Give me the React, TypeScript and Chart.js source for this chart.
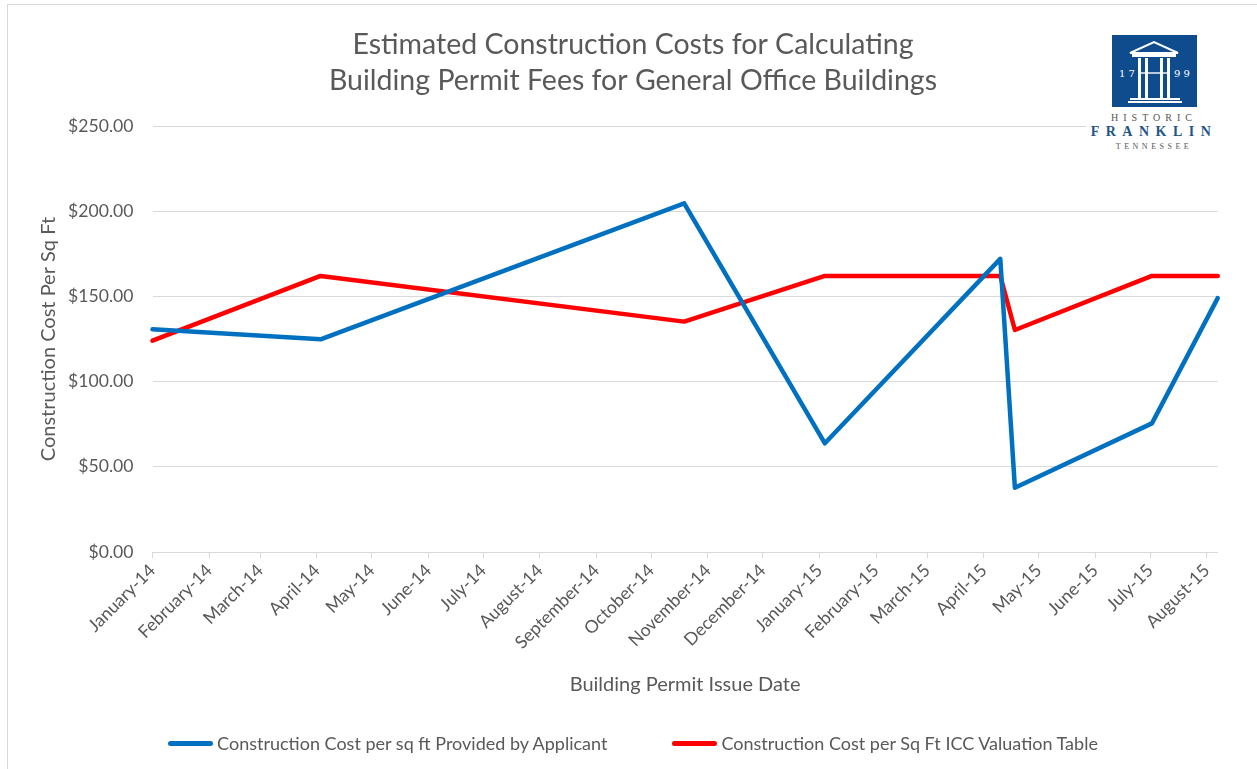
import React, { useEffect, useRef } from "react";
import { Chart, registerables } from "chart.js";

Chart.register(...registerables);

// ---- data ----
const pointDates = [
  "2014-01-01",
  "2014-04-03",
  "2014-10-19",
  "2015-01-04",
  "2015-04-10",
  "2015-04-18",
  "2015-07-02",
  "2015-08-07",
];
const applicantCost = [130.7, 124.8, 204.6, 63.8, 172.0, 37.7, 75.5, 149.0];
const iccCost = [124.0, 162.0, 135.2, 162.0, 162.0, 130.3, 162.0, 162.0];

const monthTickDates = [
  "2014-01-01", "2014-02-01", "2014-03-01", "2014-04-01", "2014-05-01",
  "2014-06-01", "2014-07-01", "2014-08-01", "2014-09-01", "2014-10-01",
  "2014-11-01", "2014-12-01", "2015-01-01", "2015-02-01", "2015-03-01",
  "2015-04-01", "2015-05-01", "2015-06-01", "2015-07-01", "2015-08-01",
];
const monthTickLabels = [
  "January-14", "February-14", "March-14", "April-14", "May-14",
  "June-14", "July-14", "August-14", "September-14", "October-14",
  "November-14", "December-14", "January-15", "February-15", "March-15",
  "April-15", "May-15", "June-15", "July-15", "August-15",
];
const yTickValues = [0, 50, 100, 150, 200, 250];

const seriesNames = [
  "Construction Cost per sq ft Provided by Applicant",
  "Construction Cost per Sq Ft ICC Valuation Table",
];
const seriesColors = ["#0070C0", "#FF0000"];
const titleLines = [
  "Estimated Construction Costs for Calculating",
  "Building Permit Fees for General Office Buildings",
];
const xAxisTitle = "Building Permit Issue Date";
const yAxisTitle = "Construction Cost Per Sq Ft";
const axisStart = "2014-01-01";
const axisEnd = "2015-08-07";

const FONT = "Lato, 'Open Sans', sans-serif";
const TEXT = "#595959";
const GRID = "#d9d9d9";

const dayOf = (s: string) => (Date.parse(s) - Date.parse(axisStart)) / 86400000;

function Logo() {
  return (
    <div
      style={{
        position: "absolute",
        left: 1086,
        top: 28,
        width: 136,
        height: 130,
        background: "#fff",
      }}
    >
      <svg
        width={85}
        height={72}
        viewBox="0 0 85 72"
        style={{ position: "absolute", left: 26, top: 7 }}
      >
        <rect x={0} y={0} width={85} height={72} fill="#0f4c8d" />
        <polygon points="18,18 42,7 66,18" fill="none" stroke="#fff" strokeWidth={2} />
        <rect x={20} y={19} width={44} height={3} fill="#fff" />
        <rect x={26} y={23} width={3} height={40} fill="#fff" />
        <rect x={33} y={23} width={3} height={40} fill="#fff" />
        <rect x={48} y={23} width={3} height={40} fill="#fff" />
        <rect x={55} y={23} width={3} height={40} fill="#fff" />
        <rect x={29} y={37} width={26} height={2} fill="#fff" opacity={0.7} />
        <rect x={18} y={63} width={50} height={2} fill="#fff" />
        <rect x={16} y={66} width={54} height={2} fill="#fff" />
        <text x={15} y={42} fill="#fff" fontSize={10} fontFamily="'DejaVu Serif', serif" textAnchor="middle">1 7</text>
        <text x={70} y={42} fill="#fff" fontSize={10} fontFamily="'DejaVu Serif', serif" textAnchor="middle">9 9</text>
      </svg>
      <div
        style={{
          position: "absolute",
          left: 0,
          width: 136,
          top: 84,
          textAlign: "center",
          fontFamily: "'Liberation Serif', serif",
          fontSize: 10,
          letterSpacing: 5,
          color: "#555",
          lineHeight: "12px",
        }}
      >
        HISTORIC
      </div>
      <div
        style={{
          position: "absolute",
          left: 0,
          width: 136,
          top: 96,
          textAlign: "center",
          fontFamily: "'Liberation Serif', serif",
          fontSize: 14,
          fontWeight: "bold",
          letterSpacing: 6.5,
          color: "#1f5586",
          lineHeight: "16px",
        }}
      >
        FRANKLIN
      </div>
      <div
        style={{
          position: "absolute",
          left: 0,
          width: 136,
          top: 114,
          textAlign: "center",
          fontFamily: "'Liberation Serif', serif",
          fontSize: 8,
          letterSpacing: 3.5,
          color: "#555",
          lineHeight: "10px",
        }}
      >
        TENNESSEE
      </div>
    </div>
  );
}

export default function App() {
  const canvasRef = useRef<HTMLCanvasElement | null>(null);

  useEffect(() => {
    const canvas = canvasRef.current;
    if (!canvas) return;
    const tickDays = monthTickDates.map(dayOf);

    const chart = new Chart(canvas, {
      type: "line",
      data: {
        datasets: [
          {
            label: seriesNames[0],
            data: pointDates.map((d, i) => ({ x: dayOf(d), y: applicantCost[i] })),
            borderColor: seriesColors[0],
            backgroundColor: seriesColors[0],
            borderWidth: 4.5,
            pointRadius: 0,
            borderCapStyle: "round",
            borderJoinStyle: "round",
            tension: 0,
            clip: false,
          },
          {
            label: seriesNames[1],
            data: pointDates.map((d, i) => ({ x: dayOf(d), y: iccCost[i] })),
            borderColor: seriesColors[1],
            backgroundColor: seriesColors[1],
            borderWidth: 4.5,
            pointRadius: 0,
            borderCapStyle: "round",
            borderJoinStyle: "round",
            tension: 0,
            clip: false,
          },
        ],
      },
      options: {
        animation: false,
        responsive: false,
        maintainAspectRatio: false,
        layout: { padding: { left: 41.3, right: 41.3, top: 0, bottom: 0 } },
        plugins: {
          legend: { display: false },
          tooltip: { enabled: false },
          title: {
            display: true,
            text: titleLines,
            color: TEXT,
            font: { family: FONT, size: 28.5, weight: "normal", lineHeight: 36 / 28.5 },
            padding: { top: 23, bottom: 27 },
          },
        },
        scales: {
          x: {
            type: "linear",
            min: dayOf(axisStart),
            max: dayOf(axisEnd),
            afterBuildTicks: (s: any) => {
              s.ticks = tickDays.map((v) => ({ value: v }));
            },
            afterFit: (s: any) => {
              s.height = 217;
            },
            ticks: {
              autoSkip: false,
              maxRotation: 45,
              minRotation: 45,
              padding: 2,
              color: TEXT,
              font: { family: FONT, size: 17.6 },
              callback: (_v: any, i: number) => monthTickLabels[i],
            },
            grid: {
              display: true,
              drawOnChartArea: false,
              drawTicks: true,
              tickLength: 6,
              color: GRID,
            },
            border: { display: true, color: GRID, width: 1 },
            title: {
              display: true,
              text: xAxisTitle,
              color: TEXT,
              font: { family: FONT, size: 20 },
              padding: { top: 0, bottom: 72 },
            },
          },
          y: {
            type: "linear",
            min: 0,
            max: 250,
            afterBuildTicks: (s: any) => {
              s.ticks = yTickValues.map((v) => ({ value: v }));
            },
            afterFit: (s: any) => {
              s.width = 104.2;
            },
            ticks: {
              padding: 19,
              color: TEXT,
              font: { family: FONT, size: 17.6 },
              callback: (v: any) => "$" + Number(v).toFixed(2),
            },
            grid: { color: GRID, drawTicks: false, lineWidth: 1 },
            border: { display: false },
            title: {
              display: true,
              text: yAxisTitle,
              color: TEXT,
              font: { family: FONT, size: 20 },
              padding: { top: -11.3, bottom: 0 },
            },
          },
        },
      },
    });
    return () => chart.destroy();
  }, []);

  return (
    <div
      style={{
        position: "fixed",
        left: 0,
        top: 0,
        width: 1257,
        height: 769,
        overflow: "hidden",
        background: "#fff",
      }}
    >
      <div
        style={{
          position: "absolute",
          left: 7,
          top: 4,
          width: 1300,
          height: 800,
          borderLeft: `1px solid ${GRID}`,
          borderTop: `1px solid ${GRID}`,
        }}
      />
      <canvas
        ref={canvasRef}
        width={1252}
        height={765}
        style={{ position: "absolute", left: 7, top: 4, width: 1252, height: 765 }}
      />
      <Logo />
      <div
        style={{
          position: "absolute",
          left: 0,
          width: 1266,
          top: 732,
          height: 22,
          display: "flex",
          justifyContent: "center",
          alignItems: "center",
          gap: 65,
          fontFamily: FONT,
          fontSize: 18,
          color: TEXT,
        }}
      >
        {seriesNames.map((name, i) => (
          <div key={name} style={{ display: "flex", alignItems: "center" }}>
            <div
              style={{
                width: 45,
                height: 5,
                borderRadius: 3,
                background: seriesColors[i],
                marginRight: 4,
              }}
            />
            <span style={{ whiteSpace: "nowrap" }}>{name}</span>
          </div>
        ))}
      </div>
    </div>
  );
}
